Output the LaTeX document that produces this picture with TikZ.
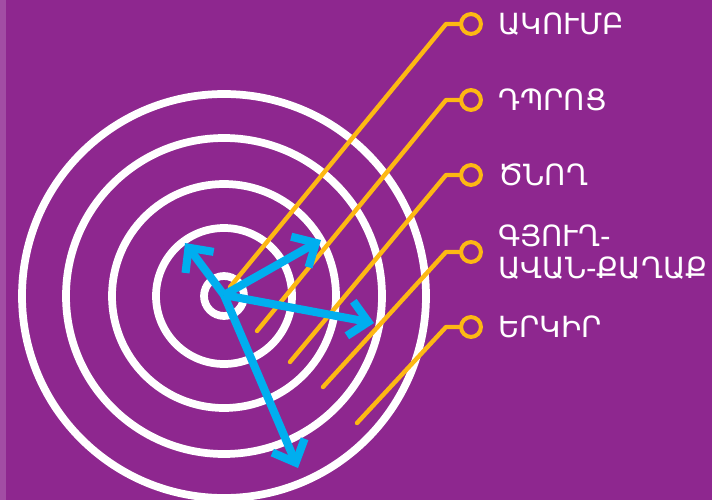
\documentclass[tikz,border=0pt]{standalone}
\usepackage{fontspec}
\setmainfont{DejaVu Sans}
\usetikzlibrary{arrows.meta}
\definecolor{tgtpurple}{HTML}{8E278F}
\definecolor{tgtedge}{HTML}{A24DA4}
\definecolor{tgtblue}{HTML}{00AEEF}
\definecolor{tgtgold}{HTML}{FDB813}

\begin{document}
\begin{tikzpicture}[x=0.02cm,y=-0.02cm,
  ringline/.style={white,line width=4.4pt},
  vector/.style={tgtblue,line width=4.6pt,-{Straight Barb[length=10.5pt,width=20pt]}},
  lead/.style={tgtgold,line width=2.5pt,line cap=round,line join=round},
  pin/.style={circle,draw=tgtgold,line width=2.3pt,minimum size=11.3pt,inner sep=0pt},
  lbl/.style={white,font=\fontsize{16.6}{18.4}\selectfont,anchor=west,align=left,inner sep=0pt}]
  % background
  \fill[tgtpurple] (0,0) rectangle (712,500);
  \fill[tgtedge] (0,0) rectangle (6,500);
  \useasboundingbox (0,0) rectangle (712,500);
  % target rings
  \coordinate (hub) at (224,295);
  \foreach \r in {20,68,112,158,202} \draw[ringline] (224,296) circle (\r);
  % leads with labels
  \foreach \n/\bx/\by/\py/\txt in {1/230/287/24/ԱԿՈՒՄԲ, 2/257/331/100/ԴՊՐՈՑ, 3/290/362/175/ԾՆՈՂ,
      4/323/387/252/{ԳՅՈՒՂ-\\ԱՎԱՆ-ՔԱՂԱՔ}, 5/357/423/327/ԵՐԿԻՐ}{
    \node[pin] (pin\n) at (471,\py) {};
    \coordinate (foot\n) at (\bx,\by);
    \coordinate (knee\n) at (446,\py);
    \draw[lead] (foot\n) -- (knee\n) -- (pin\n);
    \path (pin\n.center) ++(27,0) node[lbl] (lbl\n) {\txt};
  }
  % arrows
  \foreach \n/\tx/\ty in {nw/185/243, ne/321/240, e/374/323, s/298/468}{
    \coordinate (tip\n) at (\tx,\ty);
    \draw[vector] (hub) -- (tip\n);
  }
\end{tikzpicture}
\end{document}
